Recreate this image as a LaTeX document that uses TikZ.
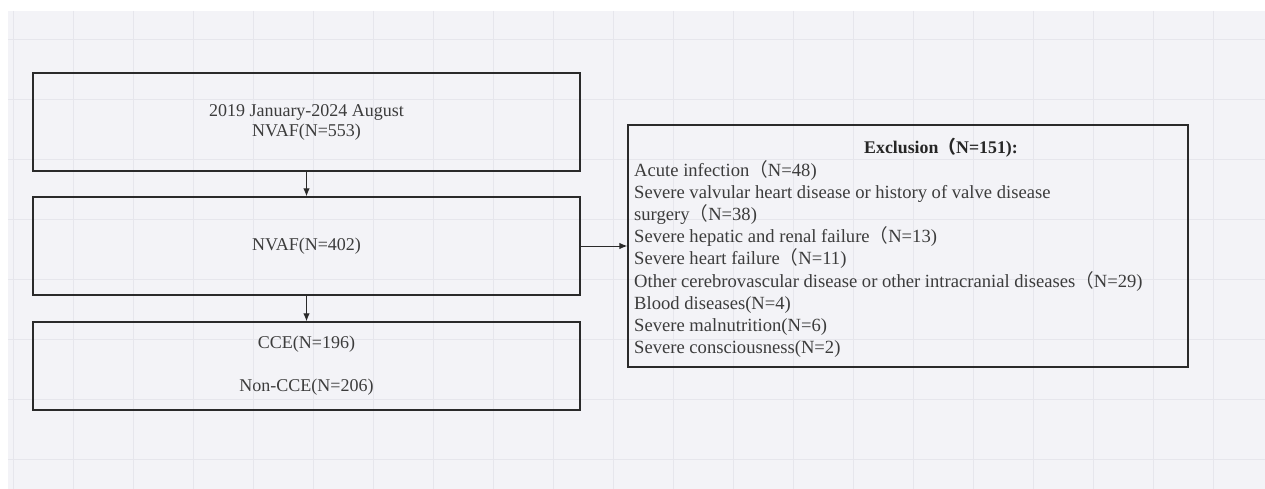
\documentclass[tikz,border=0pt]{standalone}
\usepackage{fontspec}
\setmainfont{Liberation Serif}
\newfontfamily\cjk{Noto Sans CJK SC}
\usetikzlibrary{arrows.meta}
\definecolor{bgc}{HTML}{F3F3F7}
\definecolor{gridc}{HTML}{E6E6EC}
\definecolor{txt}{HTML}{3C3C3C}
\definecolor{edge}{HTML}{2A2A2A}
\newcommand{\fp}{{\cjk （}}
\begin{document}
\begin{tikzpicture}[x=1pt,y=-1pt,
  box/.style={draw=edge, line width=1.4pt, fill=none, text=txt, align=center,
    font=\fontsize{18}{20}\selectfont},
  conn/.style={draw=edge, line width=1pt, -{Latex[length=8pt,width=6.5pt]}},
  listtext/.style={text=txt, align=left, inner sep=0pt,
    font=\fontsize{18.6}{22.2}\selectfont},
  titletext/.style={text=black!85, inner sep=0pt, font=\fontsize{17.8}{22}\selectfont\bfseries}]
\useasboundingbox (0,0) rectangle (1265,489);
\fill[white] (0,0) rectangle (1265,489);
\fill[bgc] (8,11) rectangle (1265,489);
\begin{scope}
\clip (8,11) rectangle (1265,489);
\foreach \x in {13,73,...,1273} \draw[gridc, line width=0.8pt] (\x,11) -- (\x,489);
\foreach \y in {39,99,...,489} \draw[gridc, line width=0.8pt] (8,\y) -- (1265,\y);
\end{scope}

\node[box, minimum width=547pt, minimum height=98pt] (b1) at (306.5,122)
  {2019 January-2024 August\\NVAF(N=553)};
\node[box, minimum width=547pt, minimum height=98pt] (b2) at (306.5,246)
  {NVAF(N=402)};
\node[box, minimum width=547pt, minimum height=88pt] (b3) at (306.5,366)
  {CCE(N=196)\\[23pt]Non-CCE(N=206)};
\node[box, minimum width=560pt, minimum height=242pt] (ex) at (908,246) {};

\node[titletext, anchor=base] (ttl) at (941,154) {Exclusion\fp N=151):};
\node[listtext, anchor=north west] (lst) at (634,160)
  {Acute infection\fp N=48)\\
   Severe valvular heart disease or history of valve disease\\
   surgery\fp N=38)\\
   Severe hepatic and renal failure\fp N=13)\\
   Severe heart failure\fp N=11)\\
   Other cerebrovascular disease or other intracranial diseases\fp N=29)\\
   Blood diseases(N=4)\\
   Severe malnutrition(N=6)\\
   Severe consciousness(N=2)};

\draw[conn] (b1.south) -- (b2.north);
\draw[conn] (b2.south) -- (b3.north);
\draw[conn] (b2.east) -- (ex.west);
\end{tikzpicture}
\end{document}
